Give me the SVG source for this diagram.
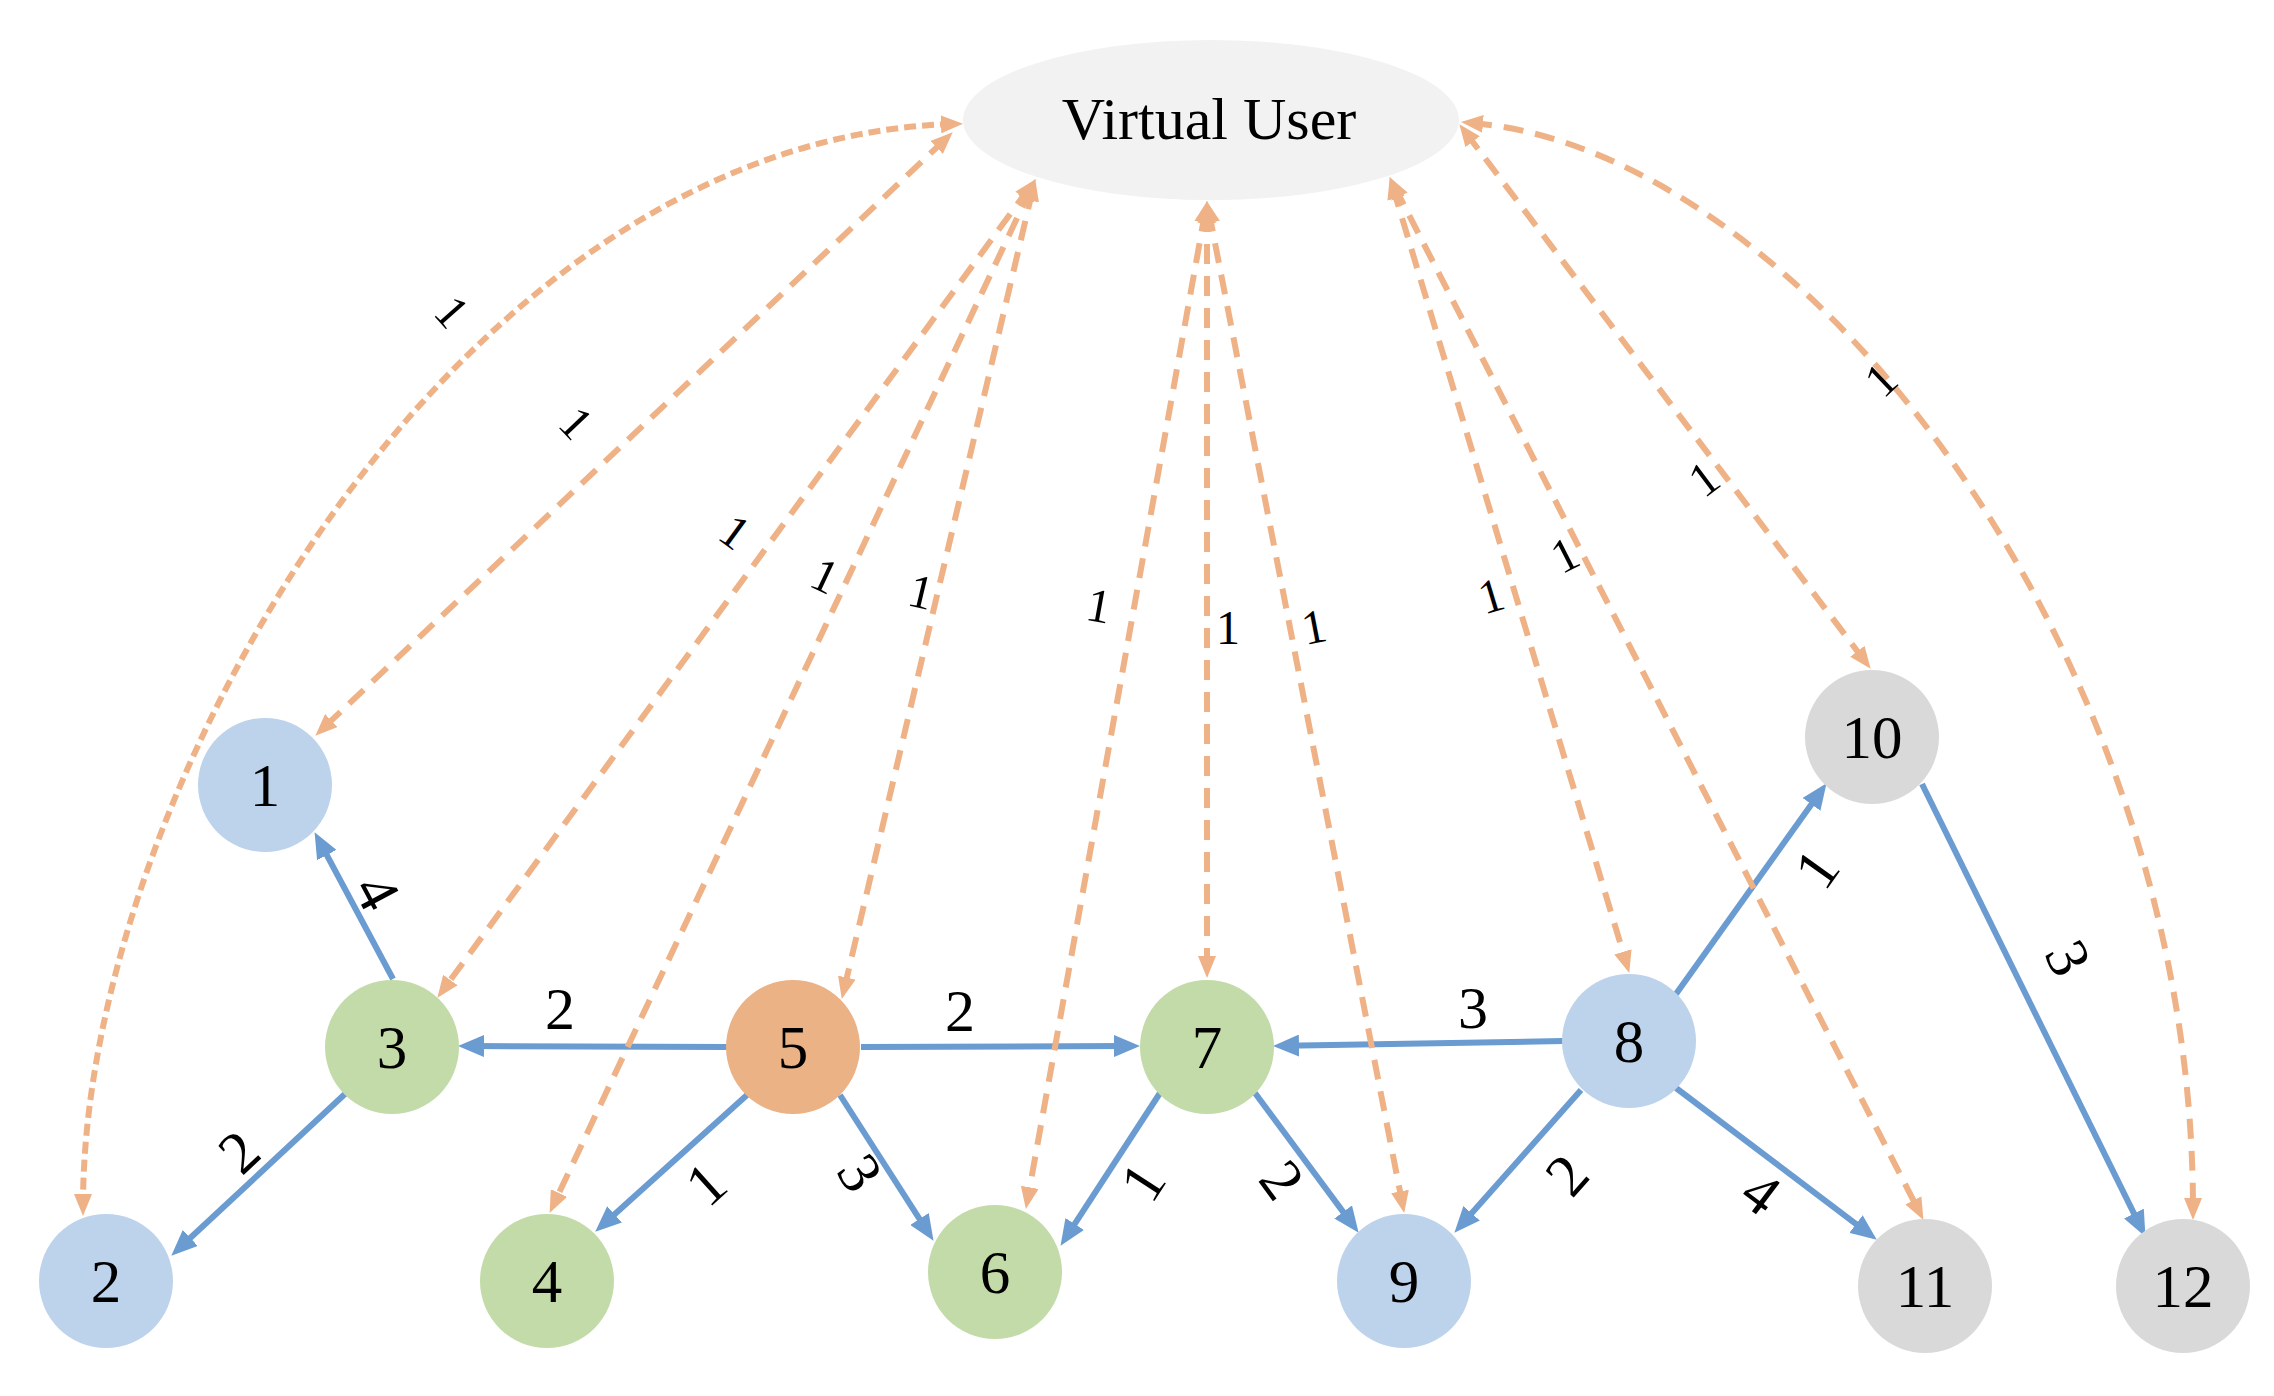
<svg xmlns="http://www.w3.org/2000/svg" width="2274" height="1396" viewBox="0 0 2274 1396">
<style>
text { font-family: "Liberation Serif", "Times New Roman", serif; fill: #000; text-anchor: middle; }
.nl { font-size: 61px; }
.el { font-size: 60px; }
.dl { font-size: 48px; }
.vu { font-size: 60px; }
.blue { stroke: #6A9BD1; stroke-width: 6; fill: none; marker-end: url(#ab); }
.dash { stroke: #EFB286; stroke-width: 6; fill: none; stroke-dasharray: 20 12; marker-start: url(#ao); marker-end: url(#ao); }
.dense { stroke-dasharray: 12 6; }
.nb { fill: #BDD3EB; }
.ng { fill: #C3DBA9; }
.no { fill: #EBB286; }
.ny { fill: #D9D9D9; }
</style>
<defs>
<marker id="ab" markerUnits="userSpaceOnUse" markerWidth="26" markerHeight="22" refX="13" refY="11" orient="auto"><path d="M0,0 L26,11 L0,22 z" fill="#6A9BD1"/></marker>
<marker id="ao" markerUnits="userSpaceOnUse" markerWidth="22" markerHeight="18" refX="11" refY="9" orient="auto-start-reverse"><path d="M0,0 L22,9 L0,18 z" fill="#EFB286"/></marker>
</defs>
<rect width="2274" height="1396" fill="#fff"/>

<g id="vu">
<ellipse cx="1211" cy="120" rx="248" ry="80" fill="#F2F2F2"/>
<text class="vu" x="1209" y="139">Virtual User</text>
</g>

<g id="connectors">
<g id="solid-edges">
<path class="blue" d="M393,979 L320.7,843.6"/>
<path class="blue" d="M346,1093 L180.8,1246.8"/>
<path class="blue" d="M727,1047 L471,1046"/>
<path class="blue" d="M861,1047 L1127,1046"/>
<path class="blue" d="M1563,1041 L1286,1045.8"/>
<path class="blue" d="M747,1095 L604.9,1223"/>
<path class="blue" d="M840,1095 L926.5,1229.9"/>
<path class="blue" d="M1160,1093 L1067.6,1234.9"/>
<path class="blue" d="M1255,1093 L1350.9,1222.4"/>
<path class="blue" d="M1581,1090 L1463,1223"/>
<path class="blue" d="M1676,1088 L1866.4,1231.8"/>
<path class="blue" d="M1676,994 L1819,793.8"/>
<path class="blue" d="M1922,784 L2139.7,1225.2"/>
</g>
<g id="dashed-edges">
<path class="dash dense" d="M952,124 C450,140 83,800 83,1205"/>
<path class="dash" d="M944.7,139.9 L323.3,728.1"/>
<path class="dash" d="M1029.1,188.1 L443.9,988.9"/>
<path class="dash" d="M1030.7,189 L554.3,1203"/>
<path class="dash" d="M1032.7,189.7 L844.3,988.3"/>
<path class="dash" d="M1205.2,211.8 L1027.8,1198.2"/>
<path class="dash" d="M1207,212 L1207,967"/>
<path class="dash" d="M1208.9,211.8 L1402.1,1202.2"/>
<path class="dash" d="M1392.9,187.6 L1626.1,962.4"/>
<path class="dash" d="M1394.6,186.9 L1918.4,1210.1"/>
<path class="dash" d="M1466,133 L1864,660"/>
<path class="dash" d="M1472,123 C1800,150 2193,650 2193,1209"/>
</g>
<g id="edge-labels">
<text class="el" transform="translate(377 892) rotate(62)" y="20">4</text>
<text class="el" transform="translate(239 1152) rotate(-43)" y="20">2</text>
<text class="el" x="560" y="1029">2</text>
<text class="el" x="960" y="1031">2</text>
<text class="el" x="1473" y="1028">3</text>
<text class="el" transform="translate(706 1184) rotate(-42)" y="20">1</text>
<text class="el" transform="translate(860 1173) rotate(57)" y="20">3</text>
<text class="el" transform="translate(1143 1182) rotate(-57)" y="20">1</text>
<text class="el" transform="translate(1282 1180) rotate(53.5)" y="20">2</text>
<text class="el" transform="translate(1567 1175) rotate(-48.4)" y="20">2</text>
<text class="el" transform="translate(1761 1193) rotate(37)" y="20">4</text>
<text class="el" transform="translate(1817 869) rotate(-54.5)" y="20">1</text>
<text class="el" transform="translate(2068 958) rotate(63.7)" y="20">3</text>

<text class="dl" transform="translate(452 312) rotate(48.5)" y="16">1</text>
<text class="dl" transform="translate(576 423) rotate(46.6)" y="16">1</text>
<text class="dl" transform="translate(735 532) rotate(36.2)" y="16">1</text>
<text class="dl" transform="translate(825 576) rotate(25.2)" y="16">1</text>
<text class="dl" transform="translate(921 592) rotate(13.3)" y="16">1</text>
<text class="dl" transform="translate(1099 606) rotate(10.2)" y="16">1</text>
<text class="dl" transform="translate(1228 628)" y="16">1</text>
<text class="dl" transform="translate(1314 627) rotate(-11)" y="16">1</text>
<text class="dl" transform="translate(1491 596) rotate(-16.8)" y="16">1</text>
<text class="dl" transform="translate(1565 555) rotate(-27.1)" y="16">1</text>
<text class="dl" transform="translate(1704 479) rotate(-37)" y="16">1</text>
<text class="dl" transform="translate(1881 380) rotate(-43.4)" y="16">1</text>
</g>
</g>

<g id="node1"><circle class="nb" cx="265" cy="785" r="67"/><text class="nl" x="265" y="806">1</text></g>
<g id="node2"><circle class="nb" cx="106" cy="1281" r="67"/><text class="nl" x="106" y="1302">2</text></g>
<g id="node3"><circle class="ng" cx="392" cy="1047" r="67"/><text class="nl" x="392" y="1068">3</text></g>
<g id="node4"><circle class="ng" cx="547" cy="1281" r="67"/><text class="nl" x="547" y="1302">4</text></g>
<g id="node5"><circle class="no" cx="793" cy="1047" r="67"/><text class="nl" x="793" y="1068">5</text></g>
<g id="node6"><circle class="ng" cx="995" cy="1272" r="67"/><text class="nl" x="995" y="1293">6</text></g>
<g id="node7"><circle class="ng" cx="1207" cy="1047" r="67"/><text class="nl" x="1207" y="1068">7</text></g>
<g id="node8"><circle class="nb" cx="1629" cy="1041" r="67"/><text class="nl" x="1629" y="1062">8</text></g>
<g id="node9"><circle class="nb" cx="1404" cy="1281" r="67"/><text class="nl" x="1404" y="1302">9</text></g>
<g id="node10"><circle class="ny" cx="1872" cy="737" r="67"/><text class="nl" x="1872" y="758">10</text></g>
<g id="node11"><circle class="ny" cx="1925" cy="1286" r="67"/><text class="nl" x="1925" y="1307">11</text></g>
<g id="node12"><circle class="ny" cx="2183" cy="1286" r="67"/><text class="nl" x="2183" y="1307">12</text></g>
</svg>
